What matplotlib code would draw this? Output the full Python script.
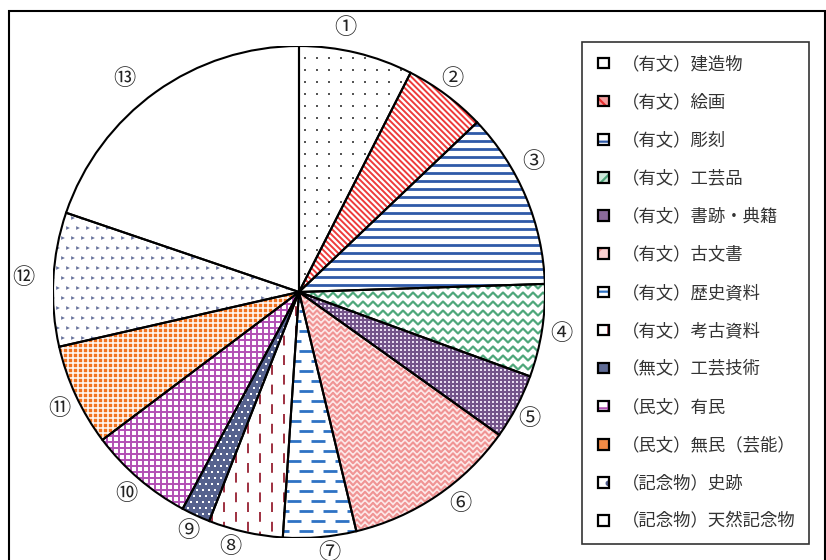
import numpy as np
import matplotlib
matplotlib.use("Agg")
import matplotlib.pyplot as plt
from matplotlib.patches import Rectangle, Wedge
from matplotlib.collections import LineCollection
from matplotlib.legend_handler import HandlerBase

plt.rcParams['font.family'] = ['Noto Sans CJK JP', 'DejaVu Sans']
plt.rcParams['hatch.linewidth'] = 1.6

# ---- data -------------------------------------------------------------
categories = ["（有文）建造物", "（有文）絵画", "（有文）彫刻", "（有文）工芸品",
              "（有文）書跡・典籍", "（有文）古文書", "（有文）歴史資料",
              "（有文）考古資料", "（無文）工芸技術", "（民文）有民",
              "（民文）無民（芸能）", "（記念物）史跡", "（記念物）天然記念物"]
shares = [7.5, 5.4, 11.6, 6.1, 4.3, 11.4, 4.8, 4.9, 1.9, 6.9, 6.7, 8.8, 19.8]
slice_tags = ["①", "②", "③", "④", "⑤", "⑥", "⑦", "⑧", "⑨", "⑩", "⑪", "⑫", "⑬"]

# ---- figure layout ----------------------------------------------------
W, H = 826, 560
fig = plt.figure(figsize=(W / 100, H / 100), dpi=100)
cx, cy, R = 299, 292, 246
ax = fig.add_axes([(cx - R) / W, (H - cy - R) / H, 2 * R / W, 2 * R / H])
PX = 1.0 / R  # one pixel in data units

# tag placement: shift along the rim (degrees, clockwise positive) and distance
tag_shift = [-3.5, -1, -6.4, 0, 1, -3.3, -1.8, 2.6, 0, 0, -1, 0, -3.6]
tag_dist = [1.09, 1.07, 1.09, 1.08, 1.07, 1.08, 1.065, 1.07, 1.07, 1.08, 1.085, 1.12, 1.12]

# fill colours and texture descriptions for each slice
styles = [
    dict(bg="white", kind="dots", color="#555555", sx=12, sy=12, size=1.2, stagger=False),
    dict(bg="white", kind="lines", color="#ee3b3b", angle=-45, step=4.2, lw=1.4),
    dict(bg="white", kind="lines", color="#2f5aa8", angle=0, step=8, lw=2.0),
    dict(bg="white", kind="zigzag", color="#4fa77b", step=9, period=10, amp=2.5, lw=1.6),
    dict(bg="#74548a", kind="dots", color="#e8dcef", sx=4, sy=4, size=0.8, stagger=False),
    dict(bg="#fde8e8", kind="zigzag", color="#f09494", step=5.5, period=8, amp=2.2, lw=1.5),
    dict(bg="white", kind="dashes", color="#2e72c4", step=10, dash=(7, 5), lw=2.0, angle=0),
    dict(bg="white", kind="dashes", color="#9e3040", step=12, dash=(7, 7), lw=1.4, angle=90),
    dict(bg="#56628e", kind="dots", color="white", sx=6, sy=6, size=1.5, stagger=True),
    dict(bg="white", kind="grid", color="#b24fb4", step=6, lw=1.4),
    dict(bg="#f2731f", kind="grid", color="white", step=5, lw=1.1),
    dict(bg="white", kind="chevrons", color="#4f5b8c", sx=10, sy=10, size=1.9),
    dict(bg="white", kind="none"),
]


def add_texture(w, st):
    kind = st["kind"]
    arts = []
    if kind == "dots":
        xs = np.arange(-1.0, 1.0, st["sx"] * PX)
        ys = np.arange(-1.0, 1.0, st["sy"] * PX)
        gx, gy = np.meshgrid(xs, ys)
        if st["stagger"]:
            gx[1::2] += st["sx"] * PX / 2
        arts.append(ax.scatter(gx.ravel(), gy.ravel(), s=st["size"] ** 2,
                               marker="s", c=st["color"], linewidths=0, zorder=2))
    elif kind in ("lines", "dashes"):
        step = st["step"] * PX
        ang = np.deg2rad(st["angle"])
        d = np.array([np.cos(ang), np.sin(ang)])
        n = np.array([-np.sin(ang), np.cos(ang)])
        offs = np.arange(-1.5, 1.5, step)
        segs = [[tuple(o * n - 1.6 * d), tuple(o * n + 1.6 * d)] for o in offs]
        if kind == "dashes":
            on, off = st["dash"]
            pt = 0.72
            styles_ls = [((0 if i % 2 == 0 else (on + off) / 2 * pt), (on * pt, off * pt))
                         for i in range(len(segs))]
            lc = LineCollection(segs, colors=st["color"], linewidths=st["lw"],
                                linestyles=styles_ls, zorder=2, capstyle="butt")
        else:
            lc = LineCollection(segs, colors=st["color"], linewidths=st["lw"], zorder=2)
        arts.append(ax.add_collection(lc))
    elif kind == "zigzag":
        half = st["period"] * PX / 2
        xs = np.arange(-1.0, 1.0 + half, half)
        sign = np.where(np.arange(len(xs)) % 2 == 0, 1.0, -1.0)
        segs = []
        for y0 in np.arange(-1.0, 1.0, st["step"] * PX):
            segs.append(np.column_stack([xs, y0 + sign * st["amp"] * PX]))
        arts.append(ax.add_collection(LineCollection(segs, colors=st["color"],
                                                     linewidths=st["lw"], zorder=2)))
    elif kind == "grid":
        step = st["step"] * PX
        segs = []
        for o in np.arange(-1.0, 1.0, step):
            segs.append([(-1.0, o), (1.0, o)])
            segs.append([(o, -1.0), (o, 1.0)])
        arts.append(ax.add_collection(LineCollection(segs, colors=st["color"],
                                                     linewidths=st["lw"], zorder=2)))
    elif kind == "chevrons":
        xs = np.arange(-1.0, 1.0, st["sx"] * PX)
        ys = np.arange(-1.0, 1.0, st["sy"] * PX)
        gx, gy = np.meshgrid(xs, ys)
        gx[1::2] += st["sx"] * PX / 2
        arts.append(ax.scatter(gx.ravel(), gy.ravel(), s=st["size"] ** 2 * 2,
                               marker=">", facecolors=st["color"], edgecolors="none",
                               linewidths=0, alpha=0.85, zorder=2))
    for a in arts:
        a.set_clip_path(w)


wedges, _ = ax.pie(shares, startangle=90, counterclock=False, radius=1,
                   colors=[s["bg"] for s in styles],
                   wedgeprops=dict(edgecolor="none", linewidth=0))

for i, (w, st) in enumerate(zip(wedges, styles)):
    add_texture(w, st)
    ax.add_patch(Wedge(w.center, w.r, w.theta1, w.theta2, fill=False,
                       edgecolor="black", linewidth=1.5, zorder=3))
    mid = np.deg2rad((w.theta1 + w.theta2) / 2 - tag_shift[i])
    ax.text(tag_dist[i] * np.cos(mid), tag_dist[i] * np.sin(mid), slice_tags[i],
            ha="center", va="center", fontsize=16, color="#222222")

ax.set_xlim(-1, 1)
ax.set_ylim(-1, 1)
ax.set_aspect("equal")
ax.axis("off")


# ---- legend -------------------------------------------------------------
class Swatch:
    def __init__(self, face, hatch, hcolor):
        self.face, self.hatch, self.hcolor = face, hatch, hcolor


class SwatchHandler(HandlerBase):
    def create_artists(self, legend, h, xdescent, ydescent, width, height, fontsize, trans):
        s = 7.6
        x0 = -xdescent + (width - s) / 2
        y0 = -ydescent + (height - s) / 2
        arts = [Rectangle((x0, y0), s, s, facecolor=h.face, edgecolor="none", transform=trans)]
        if h.hatch:
            arts.append(Rectangle((x0, y0), s, s, facecolor="none", edgecolor=h.hcolor,
                                  hatch=h.hatch, linewidth=0, transform=trans))
        arts.append(Rectangle((x0, y0), s, s, facecolor="none", edgecolor="black",
                              linewidth=1.6, transform=trans))
        return arts


swatches = [
    Swatch("white", None, None),
    Swatch("#f4a0a0", "\\\\", "#e83030"),
    Swatch("white", "-", "#2f5aa8"),
    Swatch("#cfe8da", "//", "#4fa77b"),
    Swatch("#8a6a9a", None, None),
    Swatch("#fbd0d0", "//", "#f09494"),
    Swatch("white", "-", "#2e72c4"),
    Swatch("white", "|", "#9e3040"),
    Swatch("#5f6b95", None, None),
    Swatch("white", "+", "#b24fb4"),
    Swatch("#f28a45", None, None),
    Swatch("white", ".", "#4f5b8c"),
    Swatch("white", None, None),
]

leg = fig.legend(swatches, categories, handler_map={Swatch: SwatchHandler()},
                 loc="upper left", bbox_to_anchor=(582 / W, 1 - 42 / H),
                 bbox_transform=fig.transFigure, borderaxespad=0,
                 fontsize=12.5, frameon=True, fancybox=False, edgecolor="black",
                 labelspacing=1.16, handlelength=1.0, handletextpad=0.55,
                 borderpad=0.75, labelcolor="#333333")
leg.get_frame().set_linewidth(1.2)

# outer frame around the whole chart
fig.add_artist(Rectangle((9 / W, -0.02), (825 - 9) / W, 1 - 11 / H + 0.02,
                         transform=fig.transFigure, fill=False,
                         edgecolor="black", linewidth=1.5))

fig.savefig("out.png", dpi=100, facecolor="white")
